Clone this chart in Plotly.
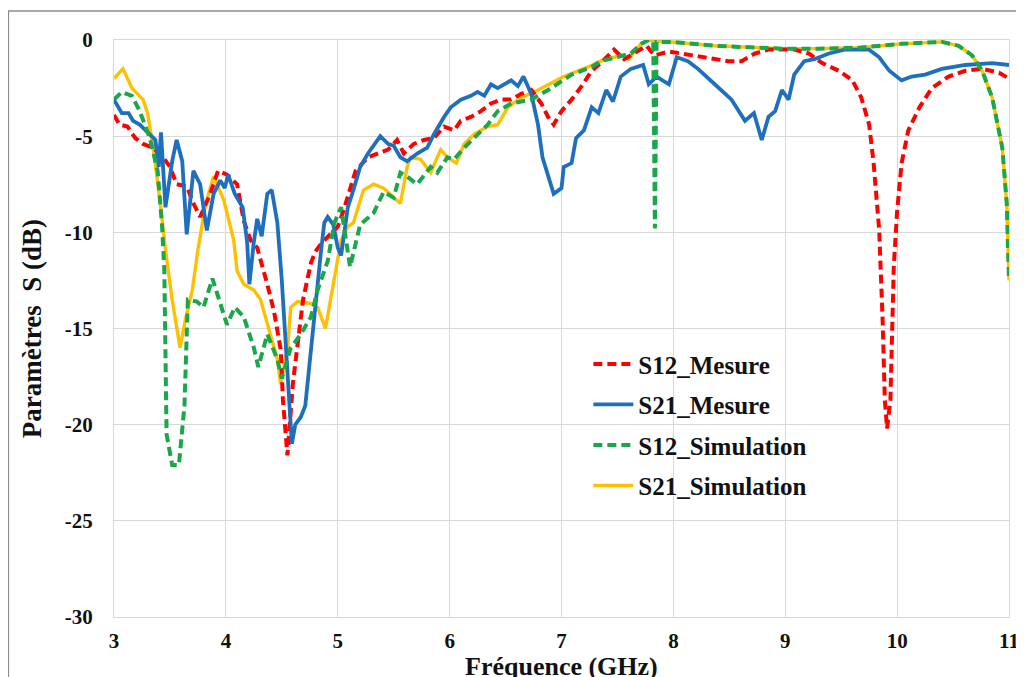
import plotly.graph_objects as go

# S12 measured (red dashed)
f_s12_mes = [3.00, 3.05, 3.12, 3.19, 3.26, 3.35, 3.44, 3.50, 3.56, 3.65, 3.71, 3.77, 3.86, 3.93,
             4.01, 4.10, 4.16, 4.22, 4.28, 4.33, 4.37, 4.43, 4.49, 4.51, 4.55, 4.60, 4.65, 4.69,
             4.76, 4.80, 4.85, 4.92, 5.00, 5.05, 5.11, 5.16, 5.27, 5.36, 5.45, 5.53, 5.59, 5.68,
             5.77, 5.86, 5.95, 6.04, 6.10, 6.19, 6.28, 6.37, 6.46, 6.55, 6.64, 6.73, 6.82, 6.88,
             6.93, 7.00, 7.09, 7.18, 7.27, 7.35, 7.47, 7.56, 7.65, 7.76, 7.83, 7.96, 8.07, 8.19,
             8.37, 8.49, 8.61, 8.73, 8.85, 9.08, 9.21, 9.33, 9.48, 9.60, 9.68, 9.75, 9.79, 9.82,
             9.84, 9.87, 9.89, 9.91, 9.94, 9.97, 10.00, 10.04, 10.10, 10.20, 10.31, 10.46, 10.61,
             10.76, 10.91, 11.00]
s12_mes = [-3.9, -4.4, -4.5, -5.1, -5.4, -5.6, -6.1, -6.6, -7.5, -7.6, -8.5, -9.2, -8.0, -6.8,
           -7.0, -7.5, -9.4, -10.4, -10.8, -11.8, -12.7, -14.1, -16.1, -18.7, -21.6, -17.8, -15.3, -13.5,
           -11.6, -11.0, -10.6, -10.2, -9.7, -8.9, -7.8, -6.8, -6.1, -5.9, -5.7, -5.2, -5.9, -5.4,
           -5.2, -5.1, -4.5, -4.7, -4.2, -4.0, -3.7, -3.3, -3.1, -3.1, -2.8, -2.6, -3.3, -4.0,
           -4.4, -3.7, -3.1, -2.4, -1.6, -1.2, -0.5, -1.0, -0.7, -0.3, -0.8, -0.6, -0.7, -0.8,
           -1.0, -1.1, -1.1, -0.7, -0.5, -0.5, -0.7, -1.2, -1.6, -2.1, -3.0, -4.4, -6.4, -8.2,
           -9.9, -14.5, -18.7, -20.2, -18.7, -11.8, -8.9, -6.4, -4.7, -3.5, -2.5, -1.9, -1.6,
           -1.5, -1.7, -2.0]

# S21 measured (blue solid)
f_s21_mes = [3.00, 3.07, 3.13, 3.17, 3.23, 3.30, 3.37, 3.40, 3.42, 3.46, 3.52, 3.56, 3.61, 3.65,
             3.71, 3.77, 3.83, 3.89, 3.95, 3.99, 4.02, 4.08, 4.15, 4.19, 4.21, 4.25, 4.28, 4.32,
             4.37, 4.41, 4.46, 4.50, 4.53, 4.56, 4.59, 4.62, 4.67, 4.71, 4.76, 4.80, 4.85, 4.88,
             4.91, 4.96, 5.00, 5.03, 5.09, 5.14, 5.20, 5.27, 5.36, 5.38, 5.45, 5.50, 5.56, 5.62,
             5.71, 5.80, 5.86, 5.95, 6.01, 6.10, 6.19, 6.25, 6.31, 6.37, 6.43, 6.49, 6.55, 6.61,
             6.66, 6.73, 6.79, 6.83, 6.88, 6.93, 7.00, 7.02, 7.09, 7.13, 7.20, 7.27, 7.33, 7.40,
             7.46, 7.53, 7.62, 7.73, 7.78, 7.85, 7.96, 8.03, 8.13, 8.22, 8.37, 8.52, 8.64, 8.72,
             8.79, 8.85, 8.91, 8.97, 9.03, 9.08, 9.17, 9.26, 9.39, 9.53, 9.75, 9.84, 9.93, 10.04,
             10.13, 10.25, 10.40, 10.61, 10.85, 11.00]
s21_mes = [-3.1, -3.8, -3.8, -4.2, -4.4, -4.8, -5.2, -6.6, -4.8, -8.7, -6.3, -5.2, -6.3, -10.1,
           -6.8, -7.5, -9.9, -8.0, -7.3, -7.7, -7.0, -8.0, -8.7, -10.5, -12.7, -10.5, -9.3, -10.2,
           -8.0, -7.8, -9.5, -12.5, -15.3, -18.0, -21.0, -20.0, -19.6, -19.0, -16.1, -13.5, -11.0, -9.5,
           -9.2, -9.6, -10.8, -11.2, -8.7, -7.8, -6.6, -5.9, -5.2, -5.0, -5.4, -5.5, -6.1, -6.3,
           -5.9, -5.6, -4.9, -4.0, -3.5, -3.1, -2.9, -2.7, -2.9, -2.3, -2.5, -2.3, -2.1, -2.4,
           -1.9, -2.8, -4.4, -6.1, -7.1, -8.0, -7.7, -6.6, -6.4, -5.1, -4.7, -3.5, -3.8, -2.6,
           -3.2, -1.9, -1.5, -1.3, -2.3, -1.9, -2.3, -0.9, -1.1, -1.5, -2.3, -3.1, -4.2, -3.8,
           -5.2, -4.0, -3.7, -2.6, -3.1, -1.8, -1.1, -1.0, -0.7, -0.5, -0.5, -0.9, -1.6, -2.1,
           -1.9, -1.8, -1.5, -1.3, -1.2, -1.3]

# S12 simulated (green dashed)
f_s12_sim = [3.00, 3.07, 3.16, 3.23, 3.32, 3.39, 3.43, 3.45, 3.47, 3.52, 3.58, 3.63, 3.66, 3.74,
             3.80, 3.88, 3.95, 4.01, 4.08, 4.16, 4.25, 4.29, 4.37, 4.46, 4.50, 4.58, 4.67, 4.76,
             4.82, 4.91, 4.97, 5.03, 5.11, 5.20, 5.32, 5.41, 5.50, 5.56, 5.62, 5.71, 5.83, 5.89,
             5.98, 6.04, 6.13, 6.22, 6.34, 6.43, 6.55, 6.73, 6.88, 7.09, 7.27, 7.35, 7.53, 7.62,
             7.71, 7.78, 7.82, 7.835, 7.85, 8.00, 8.37, 8.97, 9.30, 9.66, 10.04, 10.40, 10.55,
             10.67, 10.76, 10.85, 10.94, 10.98, 11.00]
s12_sim = [-3.1, -2.7, -2.9, -3.7, -5.1, -6.8, -9.7, -12.0, -20.5, -22.1, -22.1, -19.0, -13.5, -13.6,
           -13.9, -12.4, -13.7, -14.8, -13.9, -14.4, -16.0, -17.0, -15.3, -16.6, -17.6, -16.0, -15.3, -14.4,
           -13.0, -11.5, -9.5, -8.7, -11.8, -9.6, -9.0, -7.9, -8.2, -6.9, -7.1, -7.5, -6.6, -6.9,
           -6.1, -6.2, -5.6, -5.1, -4.4, -3.7, -3.3, -3.1, -2.6, -1.8, -1.4, -1.1, -0.8, -0.7,
           -0.2, 0.0, -0.1, -9.8, -0.1, -0.1, -0.3, -0.45, -0.45, -0.4, -0.2, -0.1, -0.3,
           -0.8, -1.6, -3.0, -5.6, -8.5, -12.5]

# S21 simulated (yellow solid)
f_s21_sim = [3.00, 3.08, 3.16, 3.26, 3.30, 3.35, 3.41, 3.46, 3.52, 3.59, 3.64, 3.70, 3.75, 3.82,
             3.89, 3.98, 4.07, 4.10, 4.16, 4.25, 4.31, 4.40, 4.46, 4.49, 4.55, 4.58, 4.64, 4.76,
             4.82, 4.89, 4.98, 5.03, 5.09, 5.14, 5.23, 5.32, 5.41, 5.53, 5.56, 5.62, 5.65, 5.74,
             5.83, 5.92, 5.98, 6.06, 6.13, 6.22, 6.34, 6.43, 6.52, 6.64, 6.79, 7.02, 7.24, 7.35,
             7.53, 7.60, 7.71, 7.78, 8.00, 8.37, 8.97, 9.30, 9.66, 10.04, 10.40, 10.55, 10.67,
             10.76, 10.85, 10.94, 10.98, 11.00]
s21_sim = [-2.0, -1.5, -2.5, -3.1, -3.8, -5.6, -8.3, -10.9, -13.5, -16.0, -14.5, -13.0, -10.9, -8.5,
           -7.1, -8.3, -10.4, -12.0, -12.7, -13.0, -13.5, -15.3, -16.6, -17.9, -16.1, -13.9, -13.6, -13.7,
           -13.9, -15.0, -12.0, -10.4, -9.7, -9.5, -7.8, -7.5, -7.7, -8.3, -8.5, -6.6, -6.1, -6.2,
           -6.9, -5.7, -6.1, -6.4, -5.4, -4.9, -4.5, -4.4, -3.5, -3.0, -2.6, -1.9, -1.4, -1.1,
           -0.8, -1.0, -0.2, 0.0, -0.1, -0.3, -0.45, -0.45, -0.4, -0.2, -0.1, -0.3, -0.8,
           -1.6, -3.0, -5.6, -8.5, -12.5]

x_ticks = [3, 4, 5, 6, 7, 8, 9, 10, 11]
y_ticks = [-30, -25, -20, -15, -10, -5, 0]

serif = "Liberation Serif, Times New Roman, serif"
grid = "#d9d9d9"
bold = dict(family=serif, weight="bold")

fig = go.Figure()

# yellow underneath, green dashes on top (as in the source chart)
fig.add_trace(go.Scatter(x=f_s21_sim, y=s21_sim, mode="lines", name="S21_Simulation",
                         legendrank=4, legendgroup="d",
                         line=dict(color="#FFC000", width=3.4)))
fig.add_trace(go.Scatter(x=f_s12_mes, y=s12_mes, mode="lines", name="S12_Mesure",
                         legendrank=1, legendgroup="a",
                         line=dict(color="#FF0000", width=4, dash="9px,5px")))
fig.add_trace(go.Scatter(x=f_s21_mes, y=s21_mes, mode="lines", name="S21_Mesure",
                         legendrank=2, legendgroup="b",
                         line=dict(color="#1F6FBF", width=3.8)))
fig.add_trace(go.Scatter(x=f_s12_sim, y=s12_sim, mode="lines", name="S12_Simulation",
                         legendrank=3, legendgroup="c",
                         line=dict(color="#1AA64A", width=4, dash="9px,5px")))

# page body adds 8px offset, so the figure is a bit smaller than the window
fig.update_layout(
    width=1016, height=669,
    margin=dict(l=106, r=15, t=32, b=60),
    paper_bgcolor="white", plot_bgcolor="white",
    font=dict(family=serif, color="#111111", size=21, weight="bold"),
    showlegend=True,
    legend=dict(x=0.53, y=0.478, xanchor="left", yanchor="top",
                bgcolor="rgba(255,255,255,0)", font=dict(size=25, **bold),
                tracegroupgap=5, itemwidth=40),
    shapes=[dict(type="rect", xref="paper", yref="paper",
                 x0=-0.118, x1=1.2, y0=-0.3, y1=1.0503,
                 line=dict(color="#8c8c8c", width=1.5), layer="below")],
    annotations=[
        dict(text="Fréquence (GHz)", xref="paper", yref="paper",
             x=0.5, y=-0.085, xanchor="center", yanchor="middle",
             showarrow=False, font=dict(size=26, color="#111111", **bold)),
        dict(text="Paramètres  S (dB)", xref="paper", yref="paper",
             x=-0.092, y=0.5, xanchor="center", yanchor="middle", textangle=-90,
             showarrow=False, font=dict(size=27, color="#111111", **bold)),
    ],
)

fig.update_xaxes(
    range=[3, 11], tickvals=x_ticks, ticktext=[str(v) for v in x_ticks],
    showgrid=True, gridcolor=grid, gridwidth=1, automargin=False,
    showline=True, linecolor=grid, mirror=True, zeroline=False, ticks="",
    tickfont=dict(size=21, **bold), ticklabelstandoff=5,
)
fig.update_yaxes(
    range=[-30, 0], tickvals=y_ticks, ticktext=[str(v) for v in y_ticks],
    showgrid=True, gridcolor=grid, gridwidth=1, automargin=False,
    showline=True, linecolor=grid, mirror=True, zeroline=False, ticks="",
    tickfont=dict(size=21, **bold), ticklabelstandoff=16,
)

fig.write_html("out.html")
